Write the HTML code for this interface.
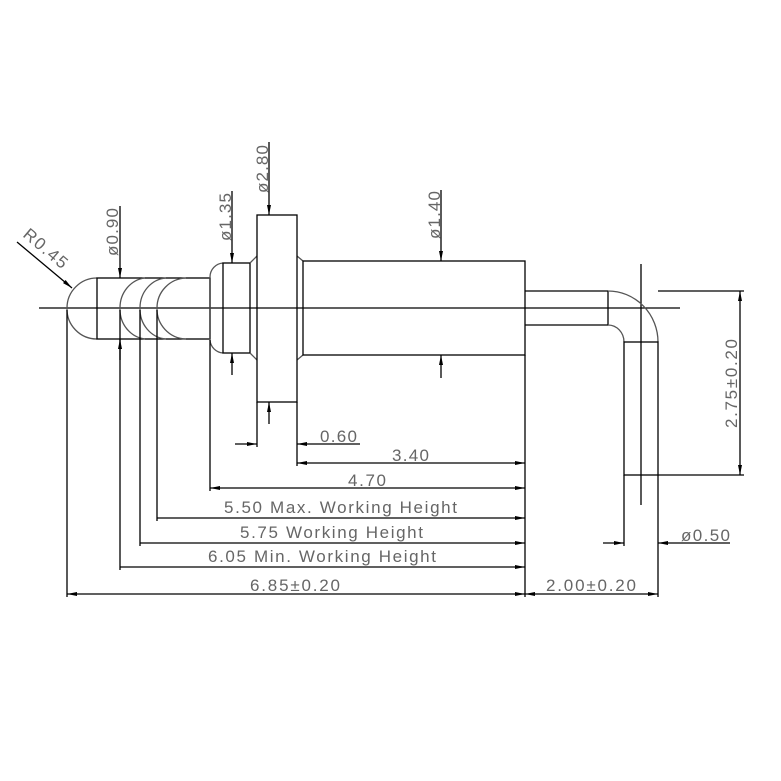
<!DOCTYPE html>
<html><head><meta charset="utf-8"><style>
html,body{margin:0;padding:0;background:#fff;}
svg{display:block;}
text{font-family:"Liberation Sans","DejaVu Sans",sans-serif;font-size:17px;fill:#666;}
</style></head><body>
<svg width="781" height="781" viewBox="0 0 781 781" xmlns="http://www.w3.org/2000/svg">
<defs>
<marker id="a" viewBox="0 0 10 4" refX="10" refY="2" markerWidth="16" markerHeight="4" markerUnits="userSpaceOnUse" orient="auto"><path d="M0,0 L10,2 L0,4 z" fill="#000"/></marker>
</defs>
<g stroke="#000" stroke-width="1.3" fill="none">
<line x1="39" y1="308" x2="680" y2="308"/>
<line x1="641" y1="264" x2="641" y2="505"/>
<path d="M97,278 A30,30 0 0 0 67,308 A30,30 0 0 0 97,339" stroke="#555"/>
<rect x="97" y="278" width="113" height="61"/>
<path d="M145,278 A28,30 0 0 0 120,308 A28,30 0 0 0 145,339" stroke="#555"/>
<path d="M166,278 A28,30 0 0 0 140,308 A28,30 0 0 0 166,339" stroke="#555"/>
<path d="M186,278 A30,30 0 0 0 157,308 A30,30 0 0 0 186,339" stroke="#555"/>
<line x1="210" y1="278" x2="210" y2="339"/>
<path d="M223,263 A14,14 0 0 0 210,277 L210,340 A14,14 0 0 0 223,353" stroke="#555"/>
<rect x="223" y="263" width="27" height="90"/>
<path d="M250,263 L257,256 M250,353 L257,360 M297,256 L303,261 M297,360 L303,355" stroke="#555"/>
<rect x="257" y="215" width="40" height="187"/>
<rect x="303" y="261" width="222" height="94"/>
<path d="M525,291 L608,291 M525,325 L608,325 L608,291"/>
<path d="M608,291 A50,51 0 0 1 658,342" stroke="#555"/>
<path d="M608,325 A16,17 0 0 1 624,342" stroke="#555"/>
<rect x="624" y="342" width="34" height="133"/>
<line x1="67" y1="310" x2="67" y2="597"/>
<line x1="120" y1="310" x2="120" y2="570"/>
<line x1="140" y1="310" x2="140" y2="546"/>
<line x1="157" y1="310" x2="157" y2="521"/>
<line x1="210" y1="340" x2="210" y2="491"/>
<line x1="257" y1="402" x2="257" y2="447"/>
<line x1="297" y1="402" x2="297" y2="466"/>
<line x1="525" y1="355" x2="525" y2="597"/>
<line x1="624" y1="475" x2="624" y2="546"/>
<line x1="658" y1="475" x2="658" y2="597"/>
<line x1="658" y1="291" x2="744" y2="291"/>
<line x1="658" y1="475" x2="744" y2="475"/>
<line x1="120" y1="206" x2="120" y2="278" marker-end="url(#a)"/>
<line x1="120" y1="360" x2="120" y2="339" marker-end="url(#a)"/>
<line x1="232" y1="191" x2="232" y2="263" marker-end="url(#a)"/>
<line x1="232" y1="375" x2="232" y2="353" marker-end="url(#a)"/>
<line x1="269" y1="142" x2="269" y2="215" marker-end="url(#a)"/>
<line x1="269" y1="424" x2="269" y2="402" marker-end="url(#a)"/>
<line x1="441" y1="190" x2="441" y2="261" marker-end="url(#a)"/>
<line x1="441" y1="378" x2="441" y2="355" marker-end="url(#a)"/>
<line x1="17" y1="242" x2="72" y2="288" marker-end="url(#a)"/>
<line x1="235" y1="444" x2="257" y2="444" marker-end="url(#a)"/>
<line x1="360" y1="444" x2="297" y2="444" marker-end="url(#a)"/>
<line x1="320" y1="463" x2="525" y2="463" marker-end="url(#a)"/>
<line x1="320" y1="463" x2="297" y2="463" marker-end="url(#a)"/>
<line x1="300" y1="488" x2="525" y2="488" marker-end="url(#a)"/>
<line x1="300" y1="488" x2="210" y2="488" marker-end="url(#a)"/>
<line x1="157" y1="518" x2="525" y2="518" marker-end="url(#a)"/>
<line x1="140" y1="543" x2="525" y2="543" marker-end="url(#a)"/>
<line x1="120" y1="567" x2="525" y2="567" marker-end="url(#a)"/>
<line x1="300" y1="594" x2="525" y2="594" marker-end="url(#a)"/>
<line x1="300" y1="594" x2="67" y2="594" marker-end="url(#a)"/>
<line x1="590" y1="594" x2="525" y2="594" marker-end="url(#a)"/>
<line x1="590" y1="594" x2="658" y2="594" marker-end="url(#a)"/>
<line x1="603" y1="543" x2="624" y2="543" marker-end="url(#a)"/>
<line x1="730" y1="543" x2="658" y2="543" marker-end="url(#a)"/>
<line x1="740" y1="380" x2="740" y2="291" marker-end="url(#a)"/>
<line x1="740" y1="380" x2="740" y2="475" marker-end="url(#a)"/>
</g>
<text transform="translate(118,256) rotate(-90)" textLength="48" lengthAdjust="spacing">ø0.90</text>
<text transform="translate(231,241) rotate(-90)" textLength="48" lengthAdjust="spacing">ø1.35</text>
<text transform="translate(268,193) rotate(-90)" textLength="48" lengthAdjust="spacing">ø2.80</text>
<text transform="translate(440,239) rotate(-90)" textLength="48" lengthAdjust="spacing">ø1.40</text>
<text transform="translate(22,236) rotate(40)" textLength="52" lengthAdjust="spacing">R0.45</text>
<text transform="translate(737,428) rotate(-90)" textLength="89" lengthAdjust="spacing">2.75±0.20</text>
<text x="320" y="442" textLength="37" lengthAdjust="spacing">0.60</text>
<text x="392" y="461" textLength="37" lengthAdjust="spacing">3.40</text>
<text x="348" y="486" textLength="38" lengthAdjust="spacing">4.70</text>
<text x="224" y="513" textLength="233" lengthAdjust="spacing">5.50 Max. Working Height</text>
<text x="240" y="538" textLength="183" lengthAdjust="spacing">5.75 Working Height</text>
<text x="208" y="562" textLength="228" lengthAdjust="spacing">6.05 Min. Working Height</text>
<text x="250" y="591" textLength="90" lengthAdjust="spacing">6.85±0.20</text>
<text x="546" y="591" textLength="90" lengthAdjust="spacing">2.00±0.20</text>
<text x="681" y="541" textLength="49" lengthAdjust="spacing">ø0.50</text>
</svg>
</body></html>
